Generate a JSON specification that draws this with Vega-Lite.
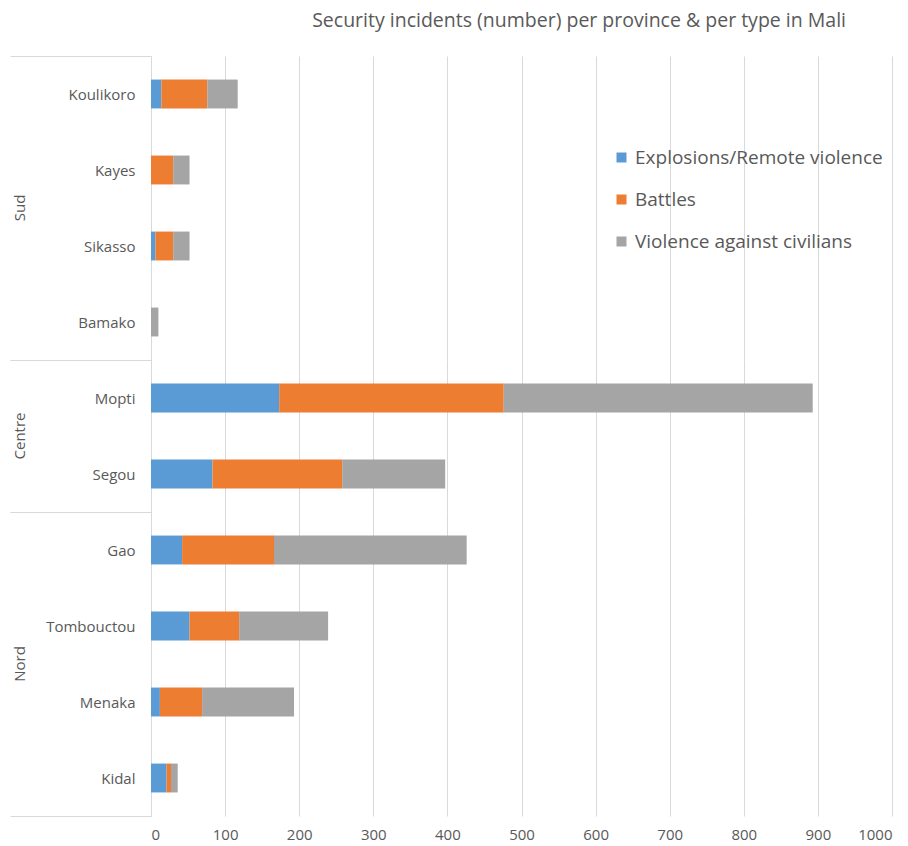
{
  "$schema": "https://vega.github.io/schema/vega-lite/v6.json",
  "padding": {"left": 9, "top": 10, "right": 3, "bottom": 5},
  "bounds": "flush",
  "title": {"text": "Security incidents (number) per province & per type in Mali", "anchor": "end", "dx": -46, "fontSize": 19.5, "font": "Open Sans", "fontWeight": "normal", "color": "#595959", "offset": 18},
  "data": {"values": [
    {"group": "Sud", "province": "Koulikoro", "type": "Explosions/Remote violence", "n": 14},
    {"group": "Sud", "province": "Koulikoro", "type": "Battles", "n": 62},
    {"group": "Sud", "province": "Koulikoro", "type": "Violence against civilians", "n": 41},
    {"group": "Sud", "province": "Kayes", "type": "Explosions/Remote violence", "n": 0},
    {"group": "Sud", "province": "Kayes", "type": "Battles", "n": 30},
    {"group": "Sud", "province": "Kayes", "type": "Violence against civilians", "n": 22},
    {"group": "Sud", "province": "Sikasso", "type": "Explosions/Remote violence", "n": 6},
    {"group": "Sud", "province": "Sikasso", "type": "Battles", "n": 24},
    {"group": "Sud", "province": "Sikasso", "type": "Violence against civilians", "n": 22},
    {"group": "Sud", "province": "Bamako", "type": "Explosions/Remote violence", "n": 0},
    {"group": "Sud", "province": "Bamako", "type": "Battles", "n": 0},
    {"group": "Sud", "province": "Bamako", "type": "Violence against civilians", "n": 10},
    {"group": "Centre", "province": "Mopti", "type": "Explosions/Remote violence", "n": 173},
    {"group": "Centre", "province": "Mopti", "type": "Battles", "n": 303},
    {"group": "Centre", "province": "Mopti", "type": "Violence against civilians", "n": 417},
    {"group": "Centre", "province": "Segou", "type": "Explosions/Remote violence", "n": 83},
    {"group": "Centre", "province": "Segou", "type": "Battles", "n": 175},
    {"group": "Centre", "province": "Segou", "type": "Violence against civilians", "n": 139},
    {"group": "Nord", "province": "Gao", "type": "Explosions/Remote violence", "n": 42},
    {"group": "Nord", "province": "Gao", "type": "Battles", "n": 124},
    {"group": "Nord", "province": "Gao", "type": "Violence against civilians", "n": 260},
    {"group": "Nord", "province": "Tombouctou", "type": "Explosions/Remote violence", "n": 52},
    {"group": "Nord", "province": "Tombouctou", "type": "Battles", "n": 67},
    {"group": "Nord", "province": "Tombouctou", "type": "Violence against civilians", "n": 120},
    {"group": "Nord", "province": "Menaka", "type": "Explosions/Remote violence", "n": 12},
    {"group": "Nord", "province": "Menaka", "type": "Battles", "n": 57},
    {"group": "Nord", "province": "Menaka", "type": "Violence against civilians", "n": 124},
    {"group": "Nord", "province": "Kidal", "type": "Explosions/Remote violence", "n": 21},
    {"group": "Nord", "province": "Kidal", "type": "Battles", "n": 6},
    {"group": "Nord", "province": "Kidal", "type": "Violence against civilians", "n": 9}
  ]},
  "facet": {
    "row": {
      "field": "group", "type": "nominal", "sort": ["Sud", "Centre", "Nord"],
      "header": {"title": null, "labelAngle": -90, "labelOrient": "left", "labelFont": "Open Sans", "labelFontSize": 15, "labelColor": "#595959", "labelPadding": 116}
    }
  },
  "spacing": 0,
  "resolve": {"scale": {"y": "independent"}},
  "spec": {
    "width": 741,
    "height": {"step": 76},
    "transform": [
      {"calculate": "indexof(['Explosions/Remote violence', 'Battles', 'Violence against civilians'], datum.type)", "as": "stackOrder"}
    ],
    "mark": {"type": "bar", "height": {"band": 0.38}},
    "encoding": {
      "y": {
        "field": "province", "type": "nominal", "sort": null,
        "scale": {"paddingInner": 0, "paddingOuter": 0},
        "axis": {
          "title": null, "grid": false, "tickBand": "extent", "tickSize": 141,
          "tickColor": {"condition": {"test": "datum.index === -1 || datum.index === 1", "value": "#d9d9d9"}, "value": "transparent"},
          "labelPadding": -125, "domainColor": "#d9d9d9",
          "labelFont": "Open Sans", "labelFontSize": 15, "labelColor": "#595959"
        }
      },
      "x": {
        "field": "n", "type": "quantitative", "stack": "zero",
        "scale": {"domain": [0, 1000], "nice": false},
        "axis": {
          "title": null, "values": [0, 100, 200, 300, 400, 500, 600, 700, 800, 900, 1000], "format": "d",
          "grid": true, "gridColor": "#d9d9d9", "domain": false, "ticks": false,
          "labelPadding": 11, "labelFont": "Open Sans", "labelFontSize": 15, "labelColor": "#595959"
        }
      },
      "order": {"field": "stackOrder", "type": "quantitative"},
      "color": {
        "field": "type", "type": "nominal",
        "sort": ["Explosions/Remote violence", "Battles", "Violence against civilians"],
        "scale": {"domain": ["Explosions/Remote violence", "Battles", "Violence against civilians"], "range": ["#5b9bd5", "#ed7d31", "#a5a5a5"]},
        "legend": {
          "title": null, "orient": "none", "legendX": 461, "legendY": 92,
          "symbolType": "square", "symbolSize": 100, "symbolStrokeWidth": 0, "labelLimit": 400,
          "labelFont": "Open Sans", "labelFontSize": 19, "labelColor": "#595959", "rowPadding": 22
        }
      }
    }
  },
  "config": {"view": {"stroke": null}}
}
